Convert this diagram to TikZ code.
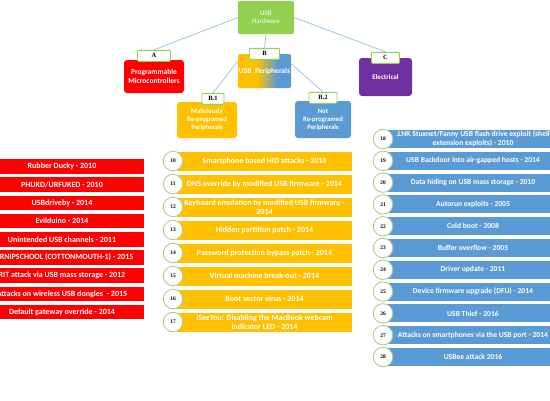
\documentclass[tikz,border=0pt]{standalone}
\usepackage{fontspec}
\setmainfont{Carlito}
\newfontfamily\numfont{Liberation Serif}
\usepackage{xcolor}
\usetikzlibrary{positioning}
\definecolor{usbred}{HTML}{FF0000}
\definecolor{usbyellow}{HTML}{FFC000}
\definecolor{usbblue}{HTML}{5B9BD5}
\definecolor{usbgreen}{HTML}{92D050}
\definecolor{usbpurple}{HTML}{7030A0}
\definecolor{usbring}{HTML}{A9D18E}
\definecolor{usblink}{HTML}{9DC3E6}
\pgfdeclarehorizontalshading{yellowblue}{100bp}{color(0bp)=(usbyellow); color(43bp)=(usbyellow);
  color(62bp)=(usbblue); color(100bp)=(usbblue)}

\begin{document}
\begin{tikzpicture}[
        x=1pt, y=-1pt,
        box/.style={rectangle, rounded corners=2pt, align=center, text=white, inner sep=1pt,
                    font=\fontsize{7}{8}\selectfont},
        tag/.style={rectangle, draw=usbgreen, line width=0.9pt, fill=white, rounded corners=1pt,
                    minimum height=11pt, inner sep=1pt, font=\numfont\bfseries\fontsize{6.5}{7}\selectfont},
        link/.style={usblink, line width=0.8pt},
        bar/.style={rectangle, align=center, text=white, inner sep=1pt, outer sep=0pt,
                    font=\bfseries\fontsize{8}{9}\selectfont},
        redbar/.style={bar, fill=usbred, minimum width=164pt, minimum height=14.5pt},
        yelbar/.style={bar, fill=usbyellow, minimum width=175pt, minimum height=19pt},
        bluebar/.style={bar, fill=usbblue, minimum width=170pt, minimum height=18pt,
                        font=\bfseries\fontsize{7.6}{8.6}\selectfont},
        ring/.style={circle, draw=usbring, line width=0.9pt, fill=white, minimum size=19.5pt,
                     inner sep=0pt, font=\numfont\bfseries\fontsize{5.5}{6}\selectfont}
    ]
    \path[use as bounding box, clip] (0,0) rectangle (550,400);

    % hierarchy
    \node [box, fill=usbgreen, minimum width=56pt, minimum height=33pt] (hw) at (266,17.5) {USB\\Hardware};
    \node [box, fill=usbred, rounded corners=3pt, minimum width=60pt, minimum height=33pt,
           font=\bfseries\fontsize{7.5}{8.5}\selectfont] (boxa) at (154,76.5) {Programmable\\Microcontrollers};
    \node [box, shading=yellowblue, minimum width=53pt, minimum height=34pt,
           font=\bfseries\fontsize{7.5}{8.5}\selectfont] (boxb) at (264.5,71) {USB\ \ Peripherals};
    \node [box, fill=usbpurple, rounded corners=3pt, minimum width=53pt, minimum height=38pt,
           font=\bfseries\fontsize{7}{8}\selectfont] (boxc) at (385.5,77) {Electrical};
    \node [box, fill=usbyellow, rounded corners=3pt, minimum width=60pt, minimum height=36pt,
           font=\bfseries\fontsize{6.7}{8}\selectfont] (boxb1) at (207,120) {Maliciously\\Re-programed\\Peripherals};
    \node [box, fill=usbblue, rounded corners=3pt, minimum width=56pt, minimum height=37pt,
           font=\bfseries\fontsize{6.7}{8}\selectfont] (boxb2) at (323,119.5) {Not\\Re-programed\\Peripherals};

    \node [tag, minimum width=33pt] (la) at ([yshift=4pt]boxa.north) {A};
    \node [tag, minimum width=30pt] (lb) at (boxb.north) {B};
    \node [tag, minimum width=28pt] (lc) at (boxc.north) {C};
    \node [tag, minimum width=22pt] (lb1) at ([xshift=6pt, yshift=3pt]boxb1.north) {B.1};
    \node [tag, minimum width=28pt] (lb2) at ([yshift=3pt]boxb2.north) {B.2};

    \draw[link] (hw.west) -- (la.north);
    \draw[link] (hw.south) -- (lb.north);
    \draw[link] (hw.east) -- (lc.north);
    \draw[link] (boxb.160) -- (lb1.north);
    \draw[link] (boxb.15) -- (lb2.north);

    % A: programmable microcontrollers
    \node [redbar] (r1) at (62,166.5) {Rubber Ducky - 2010};
    \node [redbar, below=3.7pt of r1] (r2) {PHUKD/URFUKED - 2010};
    \node [redbar, below=3.7pt of r2] (r3) {USBdriveby - 2014};
    \node [redbar, below=3.7pt of r3] (r4) {Evilduino - 2014};
    \node [redbar, below=3.7pt of r4] (r5) {Unintended USB channels - 2011};
    \node [redbar, below=3.7pt of r5] (r6) {TURNIPSCHOOL (COTTONMOUTH-1) - 2015};
    \node [redbar, below=3.7pt of r6] (r7) {RIT attack via USB mass storage - 2012};
    \node [redbar, below=3.7pt of r7] (r8) {Attacks on wireless USB dongles\ \ - 2015};
    \node [redbar, below=3.7pt of r8] (r9) {Default gateway override - 2014};

    % B.1: maliciously re-programed peripherals
    \node [yelbar] (y10) at (264.5,161) {Smartphone based HID attacks - 2010};
    \node [yelbar, below=4pt of y10] (y11) {DNS override by modified USB firmware - 2014};
    \node [yelbar, below=4pt of y11] (y12) {Keyboard emulation by modified USB firmware -\\2014};
    \node [yelbar, below=4pt of y12] (y13) {Hidden partition patch - 2014};
    \node [yelbar, below=4pt of y13] (y14) {Password protection bypass patch - 2014};
    \node [yelbar, below=4pt of y14] (y15) {Virtual machine break-out - 2014};
    \node [yelbar, below=4pt of y15] (y16) {Boot sector virus - 2014};
    \node [yelbar, below=4pt of y16] (y17) {\textit{iSeeYou}: Disabling the MacBook webcam\\indicator LED - 2014};
    \node [ring] (c10) at ([xshift=-4pt]y10.west) {10};
    \node [ring] (c11) at ([xshift=-4pt]y11.west) {11};
    \node [ring] (c12) at ([xshift=-4pt]y12.west) {12};
    \node [ring] (c13) at ([xshift=-4pt]y13.west) {13};
    \node [ring] (c14) at ([xshift=-4pt]y14.west) {14};
    \node [ring] (c15) at ([xshift=-4pt]y15.west) {15};
    \node [ring] (c16) at ([xshift=-4pt]y16.west) {16};
    \node [ring] (c17) at ([xshift=-4pt]y17.west) {17};

    % B.2: not re-programed peripherals
    \node [bluebar, anchor=west] (b18) at (388,139) {.LNK Stuxnet/Fanny USB flash drive exploit (shell\\extension exploits) - 2010};
    \node [bluebar, below=3.8pt of b18.south west, anchor=north west] (b19) {USB Backdoor into air-gapped hosts - 2014};
    \node [bluebar, below=3.8pt of b19.south west, anchor=north west] (b20) {Data hiding on USB mass storage - 2010};
    \node [bluebar, below=3.8pt of b20.south west, anchor=north west] (b21) {Autorun exploits - 2005};
    \node [bluebar, below=3.8pt of b21.south west, anchor=north west] (b22) {Cold boot - 2008};
    \node [bluebar, below=3.8pt of b22.south west, anchor=north west] (b23) {Buffer overflow - 2005};
    \node [bluebar, below=3.8pt of b23.south west, anchor=north west] (b24) {Driver update - 2011};
    \node [bluebar, below=3.8pt of b24.south west, anchor=north west] (b25) {Device firmware upgrade (DFU) - 2014};
    \node [bluebar, below=3.8pt of b25.south west, anchor=north west] (b26) {USB Thief - 2016};
    \node [bluebar, below=3.8pt of b26.south west, anchor=north west] (b27) {Attacks on smartphones via the USB port - 2014};
    \node [bluebar, below=3.8pt of b27.south west, anchor=north west] (b28) {USBee attack 2016};
    \node [ring] (c18) at ([xshift=-5pt]b18.west) {18};
    \node [ring] (c19) at ([xshift=-5pt]b19.west) {19};
    \node [ring] (c20) at ([xshift=-5pt]b20.west) {20};
    \node [ring] (c21) at ([xshift=-5pt]b21.west) {21};
    \node [ring] (c22) at ([xshift=-5pt]b22.west) {22};
    \node [ring] (c23) at ([xshift=-5pt]b23.west) {23};
    \node [ring] (c24) at ([xshift=-5pt]b24.west) {24};
    \node [ring] (c25) at ([xshift=-5pt]b25.west) {25};
    \node [ring] (c26) at ([xshift=-5pt]b26.west) {26};
    \node [ring] (c27) at ([xshift=-5pt]b27.west) {27};
    \node [ring] (c28) at ([xshift=-5pt]b28.west) {28};
  \end{tikzpicture}
\end{document}
